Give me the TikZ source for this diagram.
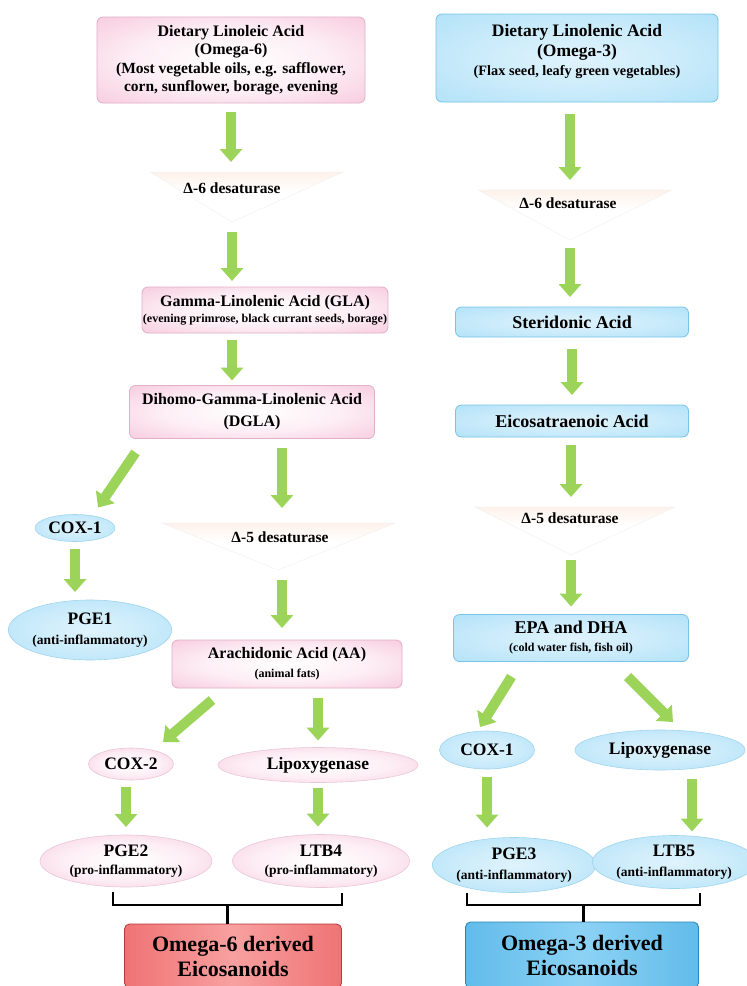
\documentclass[tikz,border=0pt]{standalone}
\usepackage{fontspec}
\setmainfont{Liberation Serif}
\usetikzlibrary{shapes.geometric,arrows.meta,calc}

\definecolor{pinkfill}{RGB}{247,200,220}
\definecolor{pinkedge}{RGB}{225,175,198}
\definecolor{bluefill}{RGB}{175,225,248}
\definecolor{blueedge}{RGB}{120,195,232}
\definecolor{garrowc}{RGB}{155,212,88}
\definecolor{funnelc}{RGB}{250,205,175}
\definecolor{redbox}{RGB}{230,70,72}
\definecolor{redmid}{RGB}{248,160,160}
\definecolor{bluebox}{RGB}{55,165,222}
\definecolor{bluemid}{RGB}{140,210,245}

\pgfdeclareradialshading{pinkglow}{\pgfpoint{0bp}{0bp}}{color(0bp)=(white); color(18bp)=(white!70!pinkfill); color(38bp)=(pinkfill); color(50bp)=(pinkfill!85!pinkedge)}
\pgfdeclareradialshading{blueglow}{\pgfpoint{0bp}{0bp}}{color(0bp)=(white!60!bluefill); color(18bp)=(white!35!bluefill); color(38bp)=(bluefill); color(50bp)=(bluefill!80!blueedge)}
\pgfdeclarehorizontalshading{redband}{100bp}{color(0bp)=(redbox); color(50bp)=(redmid); color(100bp)=(redbox)}
\pgfdeclarehorizontalshading{blueband}{100bp}{color(0bp)=(bluebox); color(50bp)=(bluemid); color(100bp)=(bluebox)}
\pgfdeclareverticalshading{funnelsh}{100bp}{color(0bp)=(white); color(55bp)=(white); color(85bp)=(funnelc!40); color(100bp)=(funnelc)}

\newcommand\bsk[1]{\fontsize{10}{#1}\selectfont}
\newcommand\fTitleL{\fontsize{16}{19}\selectfont\bfseries}
\newcommand\fSubL{\fontsize{15.5}{19}\selectfont\bfseries}
\newcommand\fTitleR{\fontsize{17.5}{19}\selectfont\bfseries}
\newcommand\fSubR{\fontsize{14.3}{20}\selectfont\bfseries}
\newcommand\fLabL{\fontsize{16}{16}\selectfont\bfseries}
\newcommand\fLabR{\fontsize{18}{18}\selectfont\bfseries}
\newcommand\fSubB{\fontsize{12}{16}\selectfont\bfseries}
\newcommand\fDes{\fontsize{15.5}{17}\selectfont\bfseries}
\newcommand\fEll{\fontsize{17.5}{18}\selectfont\bfseries}
\newcommand\fEllSub{\fontsize{13.5}{18}\selectfont\bfseries}
\newcommand\fFin{\fontsize{22}{25}\selectfont\bfseries}

\begin{document}
\begin{tikzpicture}[x=1pt,y=-1pt,
  every node/.style={inner sep=0pt, outer sep=0pt, align=center},
  pbox/.style={rectangle, rounded corners=6pt, draw=pinkedge, line width=0.8pt, shading=pinkglow},
  bbox/.style={rectangle, rounded corners=6pt, draw=blueedge, line width=0.8pt, shading=blueglow},
  pell/.style={ellipse, draw=pinkedge!70, line width=0.6pt, shading=pinkglow},
  bell/.style={ellipse, draw=blueedge!70, line width=0.6pt, shading=blueglow},
  funnel/.style={shading=funnelsh, draw=gray!10, line width=0.5pt},
  garrow/.style={draw=garrowc, line width=10pt, -{Triangle[width=22pt,length=13pt]}},
  brk/.style={draw=black, line width=2.6pt},
  finR/.style={rectangle, rounded corners=5pt, draw=redbox!80!black, line width=0.8pt, shading=redband},
  finB/.style={rectangle, rounded corners=5pt, draw=bluebox!80!black, line width=0.8pt, shading=blueband},
]
\useasboundingbox[fill=white] (0,0) rectangle (747,986);

% ---------------- left column ----------------
\node[pbox, minimum width=268, minimum height=86, font=\bsk{18.5}] (topL) at (231,60)
  {\fTitleL Dietary Linoleic Acid\\ \fTitleL (Omega-6)\\ \fSubL (Most vegetable oils, e.g. safflower,\\ \fSubL corn, sunflower, borage, evening};

\shade[funnel] (150,172) -- (343,172) -- (232,222) -- cycle;
\coordinate (d6Ltop) at (231,172);
\coordinate (d6Lapex) at (232,222);
\node[font=\fDes] (d6L) at (232,188) {Δ-6 desaturase};

\node[pbox, minimum width=246, minimum height=46, font=\bsk{16}] (gla) at (265,310)
  {\fLabL Gamma-Linolenic Acid (GLA)\\ \fSubB (evening primrose, black currant seeds, borage)};

\node[pbox, minimum width=245, minimum height=53, font=\bsk{22}] (dgla) at (252,412)
  {\fLabL Dihomo-Gamma-Linolenic Acid\\ \fLabL (DGLA)};

\node[bell, minimum width=80, minimum height=27, font=\fEll] (cox1L) at (75,528) {COX-1};

\shade[funnel] (162,523) -- (395,523) -- (278,570) -- cycle;
\coordinate (d5Ltop) at (282,523);
\coordinate (d5Lapex) at (282,570);
\node[font=\fDes] (d5L) at (280,537) {Δ-5 desaturase};

\node[bell, minimum width=160, minimum height=60, font=\bsk{20}] (pge1) at (90,630)
  {\fEll PGE1\\ \fEllSub (anti-inflammatory)};

\node[pbox, minimum width=230, minimum height=48, font=\bsk{19}] (aa) at (287,664)
  {\fLabL Arachidonic Acid (AA)\\ \fSubB (animal fats)};

\node[pell, minimum width=85, minimum height=32, font=\fEll] (cox2) at (131,764) {COX-2};
\node[pell, minimum width=200, minimum height=35, font=\fEll] (lipL) at (318,765) {Lipoxygenase};

\node[pell, minimum width=172, minimum height=52, font=\bsk{18}] (pge2) at (126,861)
  {\fEll PGE2\\ \fEllSub (pro-inflammatory)};
\node[pell, minimum width=177, minimum height=53, font=\bsk{18}] (ltb4) at (321,861)
  {\fEll LTB4\\ \fEllSub (pro-inflammatory)};

\node[finR, minimum width=217, minimum height=64, font=\bsk{25}] (om6) at (233,956)
  {\fFin Omega-6 derived\\ \fFin Eicosanoids};

% left arrows
\draw[garrow, shorten <=9pt, shorten >=10pt] (topL.south) -- (d6Ltop);
\draw[garrow, shorten <=10pt, shorten >=6pt] (d6Lapex) -- (d6Lapex |- gla.north);
\draw[garrow, shorten <=7pt, shorten >=5pt] (d6Lapex |- gla.south) -- (d6Lapex |- dgla.north);
\draw[garrow] ([shift={(6,14)}]dgla.south west) -- ([shift={(23,-7)}]cox1L.north);
\draw[garrow, shorten <=9pt, shorten >=15pt] (d5Ltop |- dgla.south) -- (d5Ltop);
\draw[garrow, shorten <=10pt, shorten >=12pt] (d5Lapex) -- (d5Lapex |- aa.north);
\draw[garrow, shorten <=7pt, shorten >=8pt] (cox1L.south) -- (cox1L.south |- pge1.north);
\draw[garrow] ([shift={(40,12)}]aa.south west) -- ([shift={(32,-6)}]cox2.north);
\draw[garrow, shorten <=10pt, shorten >=7pt] (lipL.north |- aa.south) -- (lipL.north);
\draw[garrow, shorten <=7pt, shorten >=8pt] (pge2.north |- cox2.south) -- (pge2.north);
\draw[garrow, shorten <=5pt, shorten >=8pt] (lipL.south) -- (lipL.south |- ltb4.north);

% left bracket
\coordinate (b6L) at ([shift={(-13,18)}]pge2.south);
\coordinate (b6R) at ([shift={(21,17.5)}]ltb4.south);
\coordinate (b6M) at ($(b6L)!0.5!(b6R)$);
\draw[brk] ([shift={(-13,5)}]pge2.south) -- (b6L) -- (b6R) -- ([shift={(21,5)}]ltb4.south);
\draw[brk] (b6M) -- (b6M |- om6.north);

% ---------------- right column ----------------
\node[bbox, minimum width=282, minimum height=88] (topR) at (577,58) {};
\node[font=\bsk{19.5}] (topRt) at (topR.center) [yshift=6pt]
  {\fTitleR Dietary Linolenic Acid\\ \fTitleR (Omega-3)\\ \fSubR (Flax seed, leafy green vegetables)};

\shade[funnel] (478,190) -- (672,190) -- (570,240) -- cycle;
\coordinate (d6Rtop) at (570,190);
\coordinate (d6Rapex) at (570,240);
\node[font=\fDes] (d6R) at (568,203) {Δ-6 desaturase};

\node[bbox, minimum width=233, minimum height=30, font=\fLabR] (ster) at (572,322) {Steridonic Acid};
\node[bbox, minimum width=233, minimum height=32, font=\fLabR] (eico) at (572,421) {Eicosatraenoic Acid};

\shade[funnel] (475,507) -- (675,507) -- (571,555) -- cycle;
\coordinate (d5Rtop) at (571,507);
\coordinate (d5Rapex) at (571,555);
\node[font=\fDes] (d5R) at (570,518) {Δ-5 desaturase};

\node[bbox, minimum width=235, minimum height=47, font=\bsk{18}] (epa) at (571,638)
  {\fLabR EPA and DHA\\ \fSubB (cold water fish, fish oil)};

\node[bell, minimum width=95, minimum height=38, font=\fEll] (cox1R) at (487,750) {COX-1};
\node[bell, minimum width=170, minimum height=40, font=\fEll] (lipR) at (660,750) {Lipoxygenase};

\node[bell, minimum width=162, minimum height=55, font=\bsk{20}] (pge3) at (514,865)
  {\fEll PGE3\\ \fEllSub (anti-inflammatory)};
\node[bell, minimum width=148, minimum height=53, font=\bsk{20}] (ltb5) at (674,862)
  {\fEll LTB5\\ \fEllSub (anti-inflammatory)};

\node[finB, minimum width=233, minimum height=66, font=\bsk{25}] (om3) at (582,955)
  {\fFin Omega-3 derived\\ \fFin Eicosanoids};

% right arrows
\draw[garrow, shorten <=12pt, shorten >=10pt] (d6Rtop |- topR.south) -- (d6Rtop);
\draw[garrow, shorten <=8pt, shorten >=10pt] (d6Rapex) -- (d6Rapex |- ster.north);
\draw[garrow, shorten <=12pt, shorten >=10pt] (ster.south) -- (eico.north);
\draw[garrow, shorten <=8pt, shorten >=10pt] (d5Rtop |- eico.south) -- (d5Rtop);
\draw[garrow, shorten <=5pt, shorten >=8pt] (d5Rapex) -- (d5Rapex |- epa.north);
\draw[garrow] ([shift={(58,15)}]epa.south west) -- ([shift={(-7,-4)}]cox1R.north);
\draw[garrow] ([shift={(-61,15)}]epa.south east) -- ([shift={(13,-8)}]lipR.north);
\draw[garrow, shorten <=8pt, shorten >=10pt] (cox1R.south) -- (cox1R.south |- pge3.north);
\coordinate (lipRarr) at ([xshift=32pt]lipR.south);
\draw[garrow, shorten <=9pt, shorten >=4pt] (lipRarr) -- (lipRarr |- ltb5.north);

% right bracket
\coordinate (b3L) at ([shift={(-47,12.5)}]pge3.south);
\coordinate (b3R) at ([shift={(26,16.5)}]ltb5.south);
\coordinate (b3M) at ($(b3L)!0.5!(b3R)$);
\draw[brk] ([shift={(-47,0.5)}]pge3.south) -- (b3L) -- (b3R) -- ([shift={(26,4.5)}]ltb5.south);
\draw[brk] (b3M) -- (b3M |- om3.north);
\end{tikzpicture}
\end{document}
